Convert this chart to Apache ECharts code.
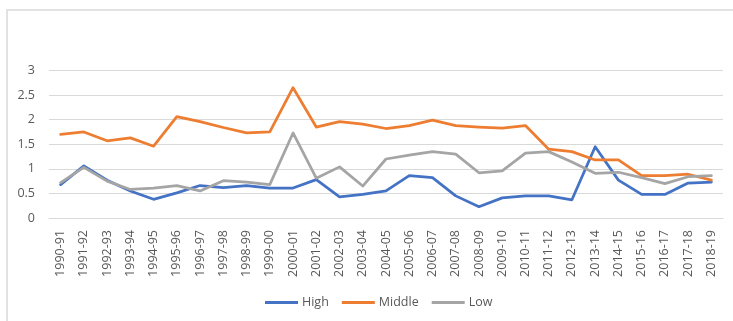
<!DOCTYPE html>
<html>
<head>
<meta charset="utf-8">
<script src="https://cdn.jsdelivr.net/npm/echarts@6/dist/echarts.min.js"></script>
<style>
  html, body { margin: 0; padding: 0; background: #fff; }
  #chart { width: 733px; height: 321px; }
</style>
</head>
<body>
<div id="chart"></div>
<script>
// School years on the category axis
const years = [
  '1990-91','1991-92','1992-93','1993-94','1994-95','1995-96','1996-97','1997-98',
  '1998-99','1999-00','2000-01','2001-02','2002-03','2003-04','2004-05','2005-06',
  '2006-07','2007-08','2008-09','2009-10','2010-11','2011-12','2012-13','2013-14',
  '2014-15','2015-16','2016-17','2017-18','2018-19'
];

// Series values per group
const high = [
  0.68, 1.06, 0.77, 0.55, 0.38, 0.51, 0.66, 0.62,
  0.66, 0.61, 0.61, 0.78, 0.43, 0.48, 0.55, 0.86,
  0.82, 0.45, 0.23, 0.41, 0.45, 0.45, 0.37, 1.45,
  0.77, 0.48, 0.48, 0.71, 0.73
];
const middle = [
  1.70, 1.75, 1.57, 1.63, 1.46, 2.06, 1.96, 1.84,
  1.73, 1.75, 2.65, 1.85, 1.96, 1.91, 1.82, 1.88,
  1.99, 1.88, 1.85, 1.83, 1.88, 1.40, 1.35, 1.18,
  1.18, 0.86, 0.86, 0.89, 0.77
];
const low = [
  0.72, 1.03, 0.75, 0.58, 0.61, 0.66, 0.55, 0.76,
  0.73, 0.68, 1.73, 0.81, 1.04, 0.65, 1.20, 1.28,
  1.35, 1.30, 0.92, 0.96, 1.32, 1.35, 1.14, 0.91,
  0.93, 0.82, 0.70, 0.84, 0.86
];

// Value axis range and step
const yMin = 0, yMax = 3, yStep = 0.5;

const textColor = '#595959';
const gridColor = '#d9d9d9';
const font = '"Open Sans", "Liberation Sans", sans-serif';

const chart = echarts.init(document.getElementById('chart'), null, { renderer: 'canvas' });

function lineSeries(name, data, color) {
  return {
    name, type: 'line', data,
    symbol: 'none',
    lineStyle: { width: 2.75, color, cap: 'round', join: 'round' },
    itemStyle: { color },
    animation: false
  };
}

chart.setOption({
  animation: false,
  textStyle: { fontFamily: font },
  graphic: [{
    type: 'rect',
    shape: { x: 7, y: 10, width: 900, height: 500 },
    style: { fill: 'none', stroke: gridColor, lineWidth: 1.5 },
    silent: true
  }],
  grid: { left: 49, right: 10, top: 70.5, bottom: 103, containLabel: false },
  legend: {
    top: 291,
    left: 260,
    icon: 'rect',
    itemWidth: 33,
    itemHeight: 3,
    itemGap: 13,
    textStyle: { color: textColor, fontSize: 12.5, fontFamily: font, padding: [0, 0, 0, -1] },
    data: ['High', 'Middle', 'Low']
  },
  xAxis: {
    type: 'category',
    data: years,
    boundaryGap: true,
    axisLine: { show: true, lineStyle: { color: gridColor, width: 1 } },
    axisTick: { show: false },
    axisLabel: {
      rotate: 90, interval: 0, margin: 12,
      color: textColor, fontSize: 12.5, fontFamily: font
    }
  },
  yAxis: {
    type: 'value',
    min: yMin, max: yMax, interval: yStep,
    axisLine: { show: false },
    axisTick: { show: false },
    splitLine: { lineStyle: { color: gridColor, width: 1 } },
    axisLabel: {
      margin: 14, color: textColor, fontSize: 12.5, fontFamily: font,
      formatter: v => String(v)
    }
  },
  series: [
    lineSeries('High', high, '#4472C4'),
    lineSeries('Middle', middle, '#ED7D31'),
    lineSeries('Low', low, '#A5A5A5')
  ]
});
</script>
</body>
</html>
